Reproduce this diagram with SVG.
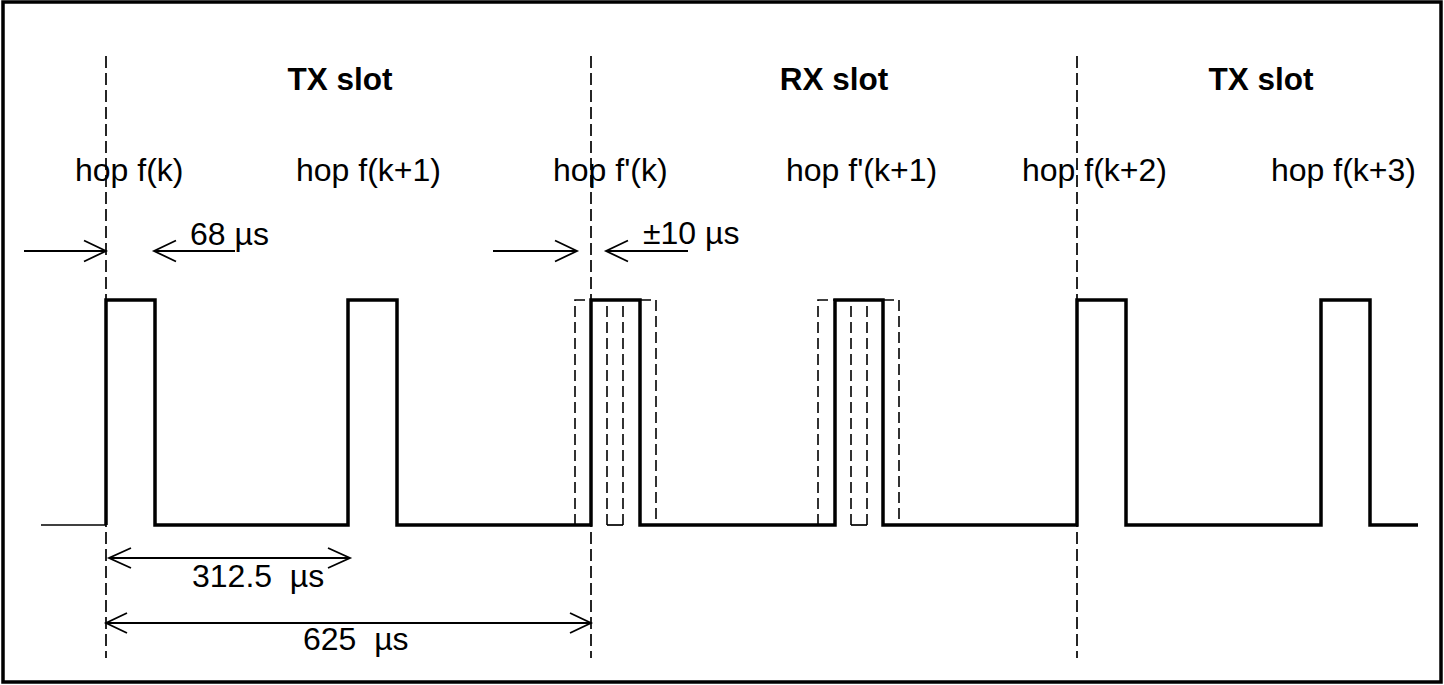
<svg xmlns="http://www.w3.org/2000/svg" width="1444" height="685" viewBox="0 0 1444 685">
<style>
text{font-family:"Liberation Sans",Arial,sans-serif;font-size:32px;fill:#000}
.title{font-weight:bold;font-size:31.5px}
.slot{stroke:#000;stroke-width:1.7;stroke-dasharray:12 5;fill:none}
.pulse{stroke:#000;stroke-width:3.5;fill:none;stroke-linejoin:miter}
.ghost{stroke:#000;stroke-width:1.6;stroke-dasharray:11 5;fill:none}
.thin{stroke:#000;stroke-width:1.7;fill:none}
.arr{stroke:#000;stroke-width:1.8;fill:none}
</style>
<rect x="0" y="0" width="1444" height="685" fill="#fff"/>
<rect x="3" y="2" width="1438" height="680" fill="none" stroke="#000" stroke-width="3.5"/>

<g id="slot-lines">
<line class="slot" x1="106" y1="56" x2="106" y2="658"/>
<line class="slot" x1="591" y1="56" x2="591" y2="658"/>
<line class="slot" x1="1077" y1="56" x2="1077" y2="658"/>
</g>

<g id="labels">
<text class="title" x="340" y="90" text-anchor="middle">TX slot</text>
<text class="title" x="834" y="90" text-anchor="middle">RX slot</text>
<text class="title" x="1261" y="90" text-anchor="middle">TX slot</text>
<text x="75" y="181">hop f(k)</text>
<text x="296" y="181">hop f(k+1)</text>
<text x="553" y="181">hop f'(k)</text>
<text x="786" y="181">hop f'(k+1)</text>
<text x="1022" y="181">hop f(k+2)</text>
<text x="1271" y="181">hop f(k+3)</text>
</g>

<g id="signal">
<line class="thin" x1="41" y1="525" x2="106" y2="525"/>
<path class="pulse" d="M106,525 V300 H155 V525 H348 V300 H397 V525 H591 V300 H640 V525 H835 V300 H883 V525 H1077 V300 H1126 V525 H1321 V300 H1370 V525 H1418"/>
<path class="ghost" d="M575,525 V300 H591"/>
<path class="ghost" d="M607,525 V300"/>
<path class="ghost" d="M623,525 V300"/>
<path class="ghost" d="M640,300 H656 V525"/>
<line class="thin" x1="607" y1="525" x2="623" y2="525"/>
<path class="ghost" d="M818,525 V300 H835"/>
<path class="ghost" d="M851,525 V300"/>
<path class="ghost" d="M867,525 V300"/>
<path class="ghost" d="M883,300 H899 V525"/>
<line class="thin" x1="851" y1="525" x2="867" y2="525"/>
</g>

<g id="connectors">
<line class="arr" x1="24" y1="251" x2="106" y2="251"/>
<polyline class="arr" points="84,240.5 106,251 84,261.5"/>
<line class="arr" x1="154" y1="251" x2="235" y2="251"/>
<polyline class="arr" points="176,240.5 154,251 176,261.5"/>
<line class="arr" x1="493" y1="251" x2="577" y2="251"/>
<polyline class="arr" points="555,240.5 577,251 555,261.5"/>
<line class="arr" x1="606" y1="251" x2="688" y2="251"/>
<polyline class="arr" points="628,240.5 606,251 628,261.5"/>
<line class="arr" x1="109" y1="558" x2="350" y2="558"/>
<polyline class="arr" points="131,548 109,558 131,568"/>
<polyline class="arr" points="328,548 350,558 328,568"/>
<line class="arr" x1="106" y1="623" x2="591" y2="623"/>
<polyline class="arr" points="127,613 106,623 127,633"/>
<polyline class="arr" points="570,613 591,623 570,633"/>
</g>

<g id="dim-labels">
<text x="190" y="245">68 µs</text>
<text x="643" y="244">±10 µs</text>
<text x="192" y="587" xml:space="preserve">312.5  µs</text>
<text x="303" y="650" xml:space="preserve">625  µs</text>
</g>
</svg>
